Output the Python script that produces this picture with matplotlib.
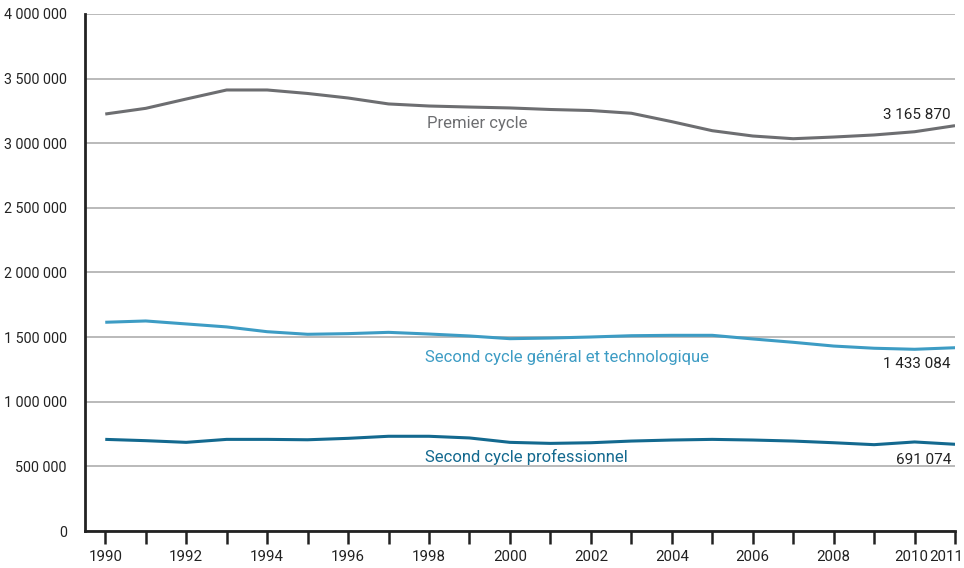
import matplotlib.pyplot as plt
import matplotlib.transforms as mtransforms
from matplotlib.ticker import FixedLocator

plt.rcParams['font.family'] = ['Roboto', 'DejaVu Sans']

years = list(range(1990, 2012))

premier_cycle = [3226000, 3270000, 3342000, 3412000, 3412000, 3385000, 3350000,
                 3304000, 3288000, 3280000, 3273000, 3261000, 3253000, 3232000,
                 3167000, 3097000, 3056000, 3035000, 3048000, 3064000, 3089000,
                 3136000]
second_gt = [1615000, 1625000, 1602000, 1579000, 1542000, 1522000, 1527000,
             1537000, 1524000, 1509000, 1488000, 1493000, 1501000, 1511000,
             1514000, 1514000, 1486000, 1460000, 1431000, 1414000, 1406000,
             1418000]
second_pro = [709000, 699000, 686000, 709000, 709000, 706000, 717000, 733000,
              733000, 720000, 686000, 678000, 683000, 696000, 704000, 709000,
              704000, 696000, 683000, 668000, 689000, 671000]

last_labels = ["3 165 870", "1 433 084", "691 074"]
x_tick_labels = [str(y) if (y % 2 == 0 or y == 2011) else "" for y in years]
y_ticks = list(range(0, 4000001, 500000))

grey = "#6d6e71"
light_blue = "#3d9cc4"
dark_blue = "#13698f"
txt = "#222222"

fig = plt.figure(figsize=(9.64, 5.68), dpi=100)
ax = fig.add_axes([0.0882, 0.0651, 0.9025, 0.9103])

ax.plot(years, premier_cycle, color=grey, lw=2.2, solid_capstyle="butt")
ax.plot(years, second_gt, color=light_blue, lw=2.2, solid_capstyle="butt")
ax.plot(years, second_pro, color=dark_blue, lw=2.2, solid_capstyle="butt")

ax.set_xlim(1989.5, 2011)
ax.set_ylim(0, 4000000)

ax.set_yticks(y_ticks)
ax.set_yticklabels([f"{v:,}".replace(",", " ") for v in y_ticks], fontsize=10.3)
ax.tick_params(axis="y", length=0, pad=13, colors=txt)
ax.yaxis.grid(True, color="#a7a7a7", lw=1.1)
ax.set_axisbelow(True)

ax.xaxis.set_major_locator(FixedLocator(years))
ax.set_xticklabels(x_tick_labels, fontsize=10.8)
ax.tick_params(axis="x", direction="out", length=9, width=1.8, pad=5,
               colors=txt)
# nudge 2010 and 2011 apart so they stay readable and inside the picture
for lab, dx in zip(ax.get_xticklabels()[-2:], [-3, -9]):
    lab.set_transform(lab.get_transform() +
                      mtransforms.ScaledTranslation(dx / 100, 0, fig.dpi_scale_trans))

for side in ["top", "right"]:
    ax.spines[side].set_visible(False)
for side in ["left", "bottom"]:
    ax.spines[side].set_color(txt)
    ax.spines[side].set_linewidth(2)

# series names
ax.text(1999.2, 3149000, "Premier cycle", color=grey, fontsize=12,
        ha="center", va="center")
ax.text(2001.4, 1346000, "Second cycle général et technologique",
        color=light_blue, fontsize=12, ha="center", va="center")
ax.text(2000.4, 572000, "Second cycle professionnel", color=dark_blue,
        fontsize=12, ha="center", va="center")

# last values
ax.text(2010.9, 3219000, last_labels[0], color=txt, fontsize=11,
        ha="right", va="center")
ax.text(2010.9, 1292000, last_labels[1], color=txt, fontsize=11,
        ha="right", va="center")
ax.text(2010.9, 549000, last_labels[2], color=txt, fontsize=11,
        ha="right", va="center")

fig.savefig("out.png", dpi=100)
